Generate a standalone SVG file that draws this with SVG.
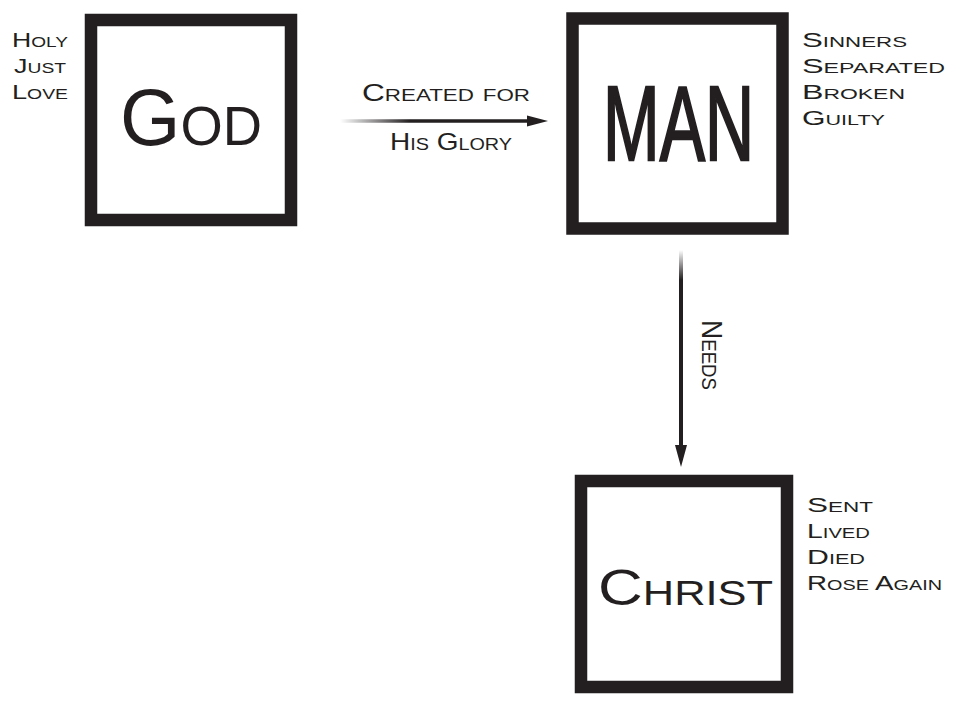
<svg xmlns="http://www.w3.org/2000/svg" width="962" height="707" viewBox="0 0 962 707">
<style>
.box{fill:#fff;stroke:#231f20;stroke-width:12.5}
.t{font-family:"Liberation Sans",Arial,sans-serif;fill:#231f20;font-variant:small-caps}
.side{font-size:21px}
</style>
<defs>
<linearGradient id="gh" x1="340" y1="0" x2="540" y2="0" gradientUnits="userSpaceOnUse">
<stop offset="0" stop-color="#231f20" stop-opacity="0"/>
<stop offset="0.35" stop-color="#231f20" stop-opacity="1"/>
<stop offset="1" stop-color="#231f20" stop-opacity="1"/>
</linearGradient>
<linearGradient id="gv" x1="0" y1="250" x2="0" y2="450" gradientUnits="userSpaceOnUse">
<stop offset="0" stop-color="#231f20" stop-opacity="0"/>
<stop offset="0.15" stop-color="#231f20" stop-opacity="1"/>
<stop offset="1" stop-color="#231f20" stop-opacity="1"/>
</linearGradient>
</defs>
<rect width="962" height="707" fill="#fff"/>
<g id="connectors">
<line x1="338" y1="121" x2="532" y2="121" stroke="url(#gh)" stroke-width="3.5"/>
<polygon points="548,121 527,115.5 527,126.5" fill="#231f20"/>
<text class="t" font-size="24" x="362" y="101" textLength="168" lengthAdjust="spacingAndGlyphs">Created for</text>
<text class="t" font-size="24" x="390" y="150" textLength="122" lengthAdjust="spacingAndGlyphs">His Glory</text>
<rect x="679" y="250" width="4" height="198" fill="url(#gv)"/>
<polygon points="681,467 675,445 687,445" fill="#231f20"/>
<text class="t" font-size="30" transform="translate(702,320) rotate(90)" textLength="70" lengthAdjust="spacingAndGlyphs">Needs</text>
</g>
<g id="god">
<rect class="box" x="91" y="20" width="200" height="200"/>
<text class="t" x="120" y="145" font-size="80" textLength="142" lengthAdjust="spacingAndGlyphs">God</text>
<text class="t side" x="12" y="47" textLength="56" lengthAdjust="spacingAndGlyphs">Holy</text>
<text class="t side" x="14" y="73" textLength="52" lengthAdjust="spacingAndGlyphs">Just</text>
<text class="t side" x="12" y="99" textLength="56" lengthAdjust="spacingAndGlyphs">Love</text>
</g>
<g id="man">
<rect class="box" x="572.5" y="18.5" width="210" height="210"/>
<text class="t" transform="translate(603,160) scale(1,1.55)" font-size="68" stroke="#231f20" stroke-width="1.5">MAN</text>
<text class="t side" x="802" y="47" textLength="105" lengthAdjust="spacingAndGlyphs">Sinners</text>
<text class="t side" x="802" y="73" textLength="143" lengthAdjust="spacingAndGlyphs">Separated</text>
<text class="t side" x="802" y="99" textLength="103" lengthAdjust="spacingAndGlyphs">Broken</text>
<text class="t side" x="802" y="125" textLength="83" lengthAdjust="spacingAndGlyphs">Guilty</text>
</g>
<g id="christ">
<rect class="box" x="581" y="481" width="206" height="206"/>
<text class="t" x="598" y="605" font-size="50" textLength="175" lengthAdjust="spacingAndGlyphs">Christ</text>
<text class="t side" x="807" y="512" textLength="66" lengthAdjust="spacingAndGlyphs">Sent</text>
<text class="t side" x="807" y="538" textLength="63" lengthAdjust="spacingAndGlyphs">Lived</text>
<text class="t side" x="807" y="564" textLength="58" lengthAdjust="spacingAndGlyphs">Died</text>
<text class="t side" x="807" y="590" textLength="135" lengthAdjust="spacingAndGlyphs">Rose Again</text>
</g>
</svg>
